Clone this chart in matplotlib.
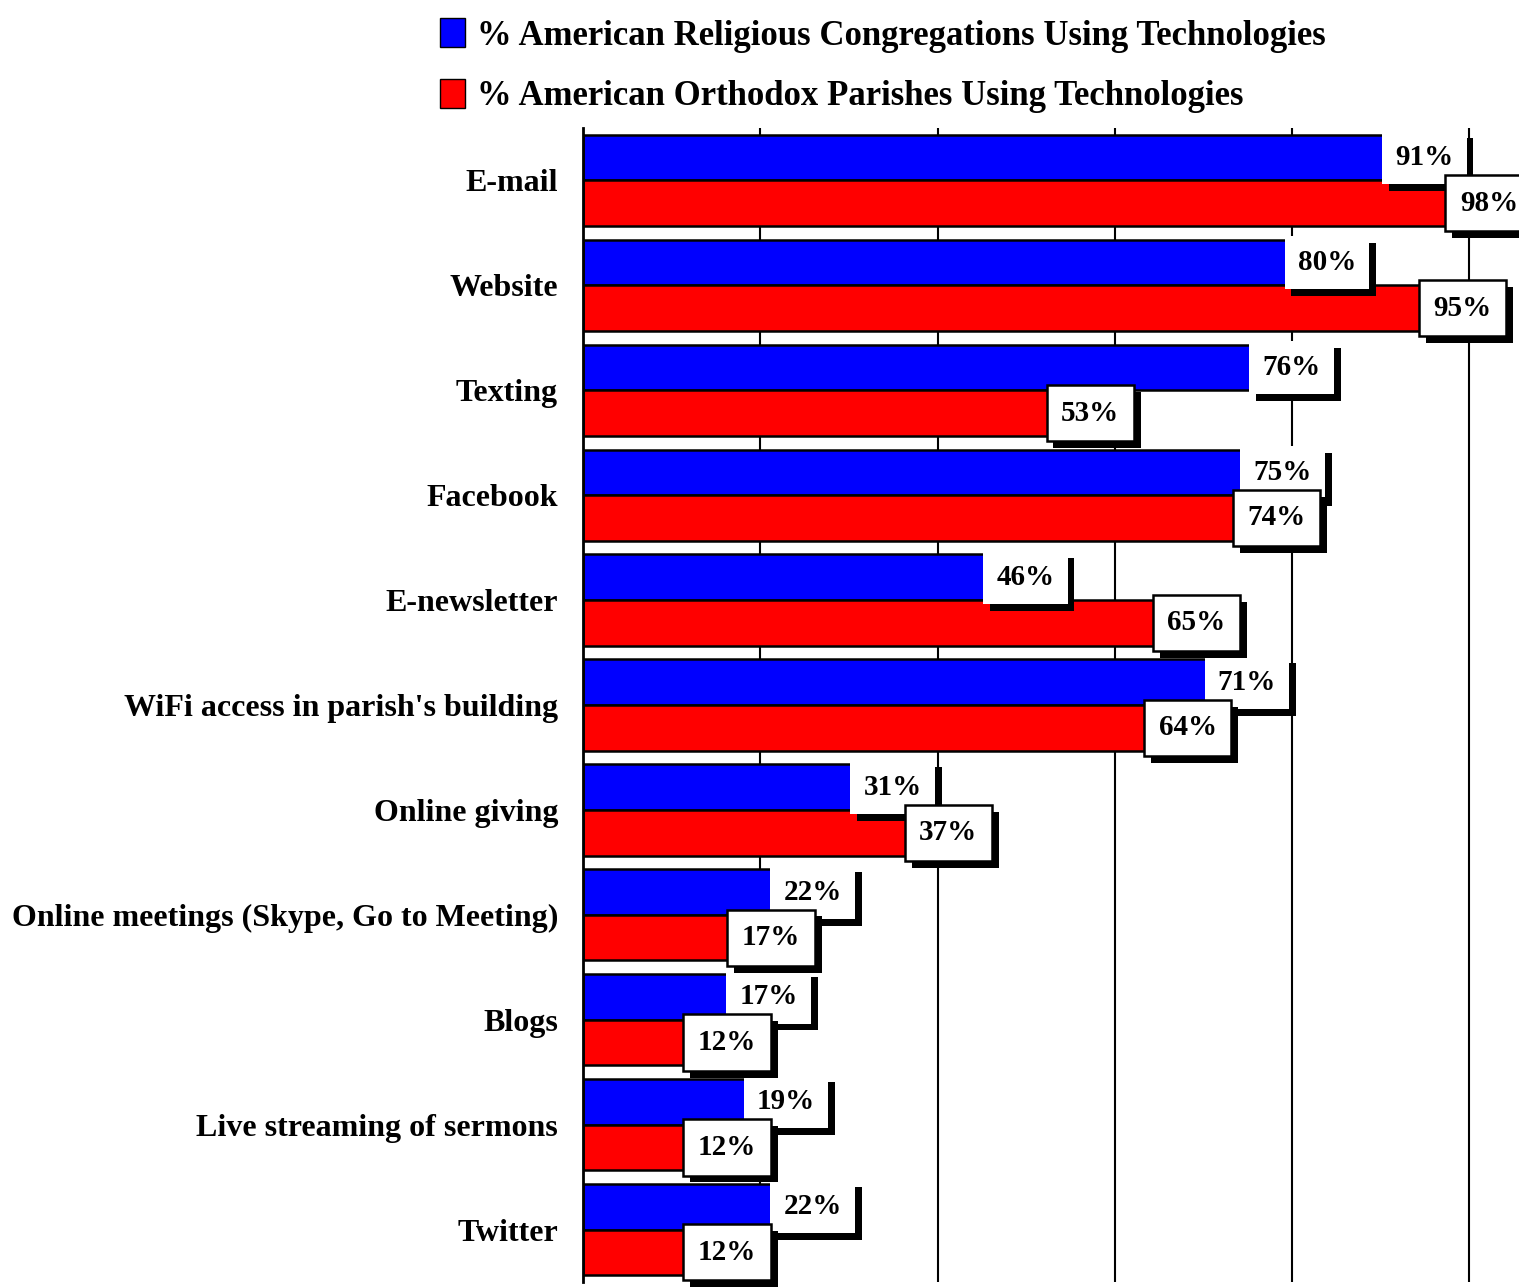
import matplotlib.pyplot as plt
import matplotlib.patheffects as pe
from matplotlib.patches import Patch
import numpy as np

categories = ["E-mail", "Website", "Texting", "Facebook", "E-newsletter",
              "WiFi access in parish's building", "Online giving",
              "Online meetings (Skype, Go to Meeting)", "Blogs",
              "Live streaming of sermons", "Twitter"]
congregations = [91, 80, 76, 75, 46, 71, 31, 22, 17, 19, 22]
orthodox = [98, 95, 53, 74, 65, 64, 37, 17, 12, 12, 12]
series_names = ["% American Religious Congregations Using Technologies",
                "% American Orthodox Parishes Using Technologies"]

plt.rcParams['font.family'] = ['Liberation Serif', 'DejaVu Serif']
plt.rcParams['font.weight'] = 'bold'

fig = plt.figure(figsize=(15.19, 12.87), dpi=100)
ax = fig.add_axes([583/1519, 5/1287, 936/1519, 1154/1287])

y = np.arange(len(categories))
h = 0.435
ax.barh(y - h/2, congregations, height=h, color='#0000ff', edgecolor='black', linewidth=1.8, zorder=2)
ax.barh(y + h/2, orthodox, height=h, color='#ff0000', edgecolor='black', linewidth=1.8, zorder=2)

shadow = [pe.SimplePatchShadow(offset=(5, -5), shadow_rgbFace='black', alpha=1), pe.Normal()]
for i in range(len(categories)):
    t = ax.annotate(f"{congregations[i]}%", (congregations[i], y[i] - h/2), xytext=(4, 0),
                    textcoords='offset points', ha='left', va='center', fontsize=21,
                    bbox=dict(boxstyle='square,pad=0.45', fc='white', ec='none'), zorder=4)
    t.get_bbox_patch().set_path_effects(shadow)
    t = ax.annotate(f"{orthodox[i]}%", (orthodox[i], y[i] + h/2), xytext=(6, 0),
                    textcoords='offset points', ha='left', va='center', fontsize=21,
                    bbox=dict(boxstyle='square,pad=0.5', fc='white', ec='black', lw=1.8), zorder=5)
    t.get_bbox_patch().set_path_effects(shadow)

ax.set_xlim(0, 105.6)
ax.set_ylim(len(categories) - 0.5, -0.5)
ax.set_xticks([20, 40, 60, 80, 100])
ax.xaxis.grid(True, color='black', linewidth=1.5, zorder=0)
ax.set_axisbelow(True)
ax.tick_params(axis='x', length=0, labelbottom=False)
ax.tick_params(axis='y', length=0, pad=18, labelsize=23)
ax.set_yticks(y)
ax.set_yticklabels(categories)
for s in ['top', 'right', 'bottom']:
    ax.spines[s].set_visible(False)
ax.spines['left'].set_linewidth(2)

handles = [Patch(fc='#0000ff', ec='black'), Patch(fc='#ff0000', ec='black')]
fig.legend(handles, series_names, loc='upper left', bbox_to_anchor=(409/1519, 1.01),
           frameon=False, fontsize=25, handlelength=0.7, handleheight=0.9,
           handletextpad=0.35, labelspacing=0.75)

fig.savefig("out.png", dpi=100)
